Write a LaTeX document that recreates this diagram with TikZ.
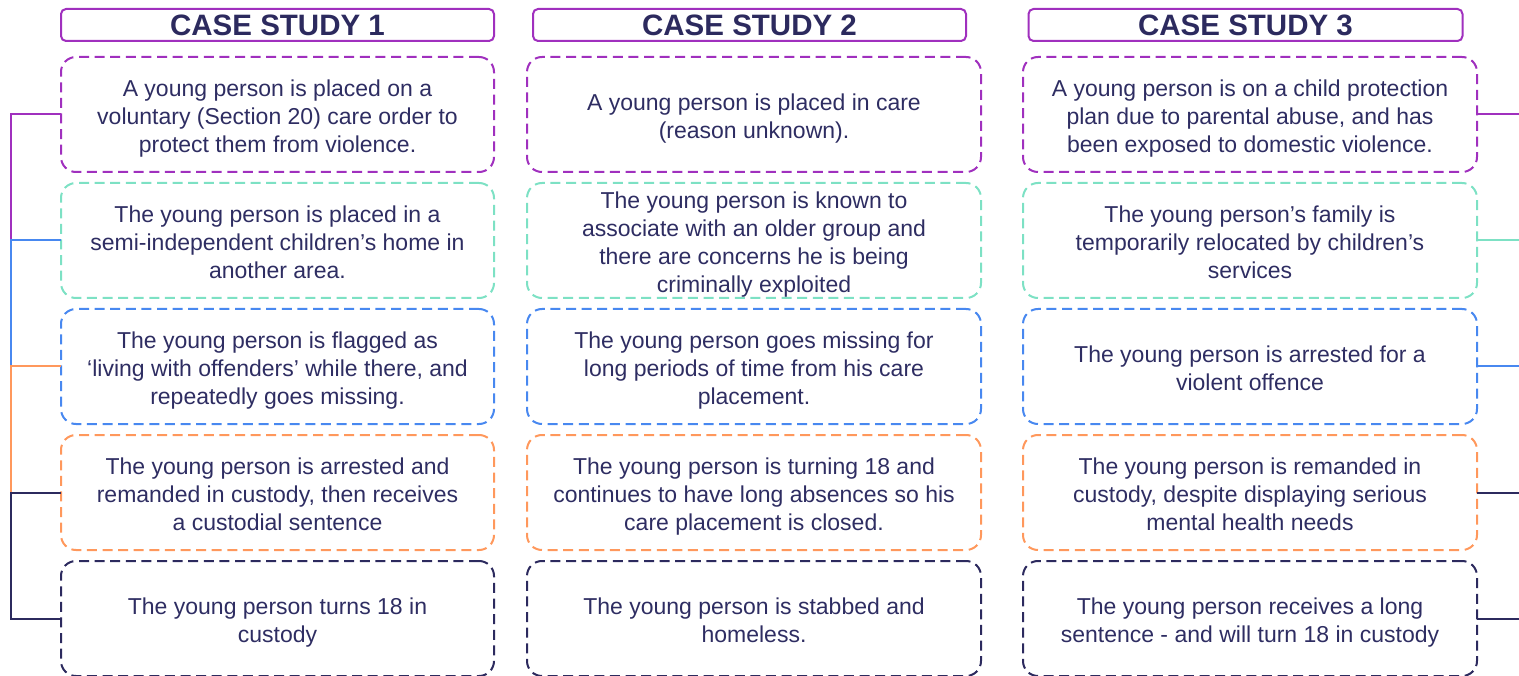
\documentclass[tikz,border=0pt]{standalone}
\usepackage{fontspec}
\setmainfont{Liberation Sans}
\definecolor{cpurple}{RGB}{160,48,190}
\definecolor{cmint}{RGB}{125,225,196}
\definecolor{cblue}{RGB}{72,136,240}
\definecolor{corange}{RGB}{255,152,92}
\definecolor{cnavy}{RGB}{44,42,94}
\definecolor{ctext}{RGB}{46,45,98}
\newcommand\evtext[1]{\raisebox{0pt}[\dimexpr\height+4pt\relax][\dimexpr\depth-4pt\relax]{\begin{tabular}{@{}c@{}}#1\end{tabular}}}
\tikzset{
  titlebox/.style={draw=cpurple, line width=2pt, rounded corners=5pt, minimum height=32pt,
    inner sep=0pt, outer sep=0pt, text=cnavy,
    font=\fontsize{29.5}{32}\selectfont\bfseries},
  evbox/.style={draw=#1, line width=2pt, dash pattern=on 10pt off 5.6pt, rounded corners=15pt,
    minimum height=115pt, inner sep=0pt, outer sep=0pt, text=ctext,
    font=\fontsize{23}{28}\selectfont},
  link/.style={draw=#1, line width=2pt},
}
\begin{document}
\begin{tikzpicture}[x=1pt,y=-1pt]
\useasboundingbox (0,0) rectangle (1519,676);
% titles
\node[titlebox, minimum width=433pt] (t1) at (277.5,25) {CASE STUDY 1};
\node[titlebox, minimum width=433pt] (t2) at (749.5,25) {CASE STUDY 2};
\node[titlebox, minimum width=434pt] (t3) at (1245.5,25) {CASE STUDY 3};
% column 1
\node[evbox=cpurple, minimum width=433pt] (a1) at (277.5,114.5) {\evtext{A young person is placed on a\\voluntary (Section 20) care order to\\protect them from violence.}};
\node[evbox=cmint, minimum width=433pt] (a2) at (277.5,240.5) {\evtext{The young person is placed in a\\semi-independent children’s home in\\another area.}};
\node[evbox=cblue, minimum width=433pt] (a3) at (277.5,366.5) {\evtext{The young person is flagged as\\‘living with offenders’ while there, and\\repeatedly goes missing.}};
\node[evbox=corange, minimum width=433pt] (a4) at (277.5,492.5) {\evtext{The young person is arrested and\\remanded in custody, then receives\\a custodial sentence}};
\node[evbox=cnavy, minimum width=433pt] (a5) at (277.5,618.5) {\evtext{The young person turns 18 in\\custody}};
% column 2
\node[evbox=cpurple, minimum width=454pt] (b1) at (754,114.5) {\evtext{A young person is placed in care\\(reason unknown).}};
\node[evbox=cmint, minimum width=454pt] (b2) at (754,240.5) {\evtext{The young person is known to\\associate with an older group and\\there are concerns he is being\\criminally exploited}};
\node[evbox=cblue, minimum width=454pt] (b3) at (754,366.5) {\evtext{The young person goes missing for\\long periods of time from his care\\placement.}};
\node[evbox=corange, minimum width=454pt] (b4) at (754,492.5) {\evtext{The young person is turning 18 and\\continues to have long absences so his\\care placement is closed.}};
\node[evbox=cnavy, minimum width=454pt] (b5) at (754,618.5) {\evtext{The young person is stabbed and\\homeless.}};
% column 3
\node[evbox=cpurple, minimum width=454pt] (c1) at (1250,114.5) {\evtext{A young person is on a child protection\\plan due to parental abuse, and has\\been exposed to domestic violence.}};
\node[evbox=cmint, minimum width=454pt] (c2) at (1250,240.5) {\evtext{The young person’s family is\\temporarily relocated by children’s\\services}};
\node[evbox=cblue, minimum width=454pt] (c3) at (1250,366.5) {\evtext{The young person is arrested for a\\violent offence}};
\node[evbox=corange, minimum width=454pt] (c4) at (1250,492.5) {\evtext{The young person is remanded in\\custody, despite displaying serious\\mental health needs}};
\node[evbox=cnavy, minimum width=454pt] (c5) at (1250,618.5) {\evtext{The young person receives a long\\sentence - and will turn 18 in custody}};
% left connectors
\draw[link=cpurple] (a1.west) -- ++(-50,0) |- (a2.west);
\draw[link=cblue] (a2.west) -- ++(-50,0) |- (a3.west);
\draw[link=corange] (a3.west) -- ++(-50,0) |- (a4.west);
\draw[link=cnavy] (a4.west) -- ++(-50,0) |- (a5.west);
% right stubs
\coordinate (r1) at (1519,114.5);
\coordinate (r2) at (1519,240.5);
\coordinate (r3) at (1519,366.5);
\coordinate (r4) at (1519,492.5);
\coordinate (r5) at (1519,618.5);
\draw[link=cpurple] (c1.east) -- (r1);
\draw[link=cmint] (c2.east) -- (r2);
\draw[link=cblue] (c3.east) -- (r3);
\draw[link=cnavy] (c4.east) -- (r4);
\draw[link=cnavy] (c5.east) -- (r5);
\end{tikzpicture}
\end{document}
